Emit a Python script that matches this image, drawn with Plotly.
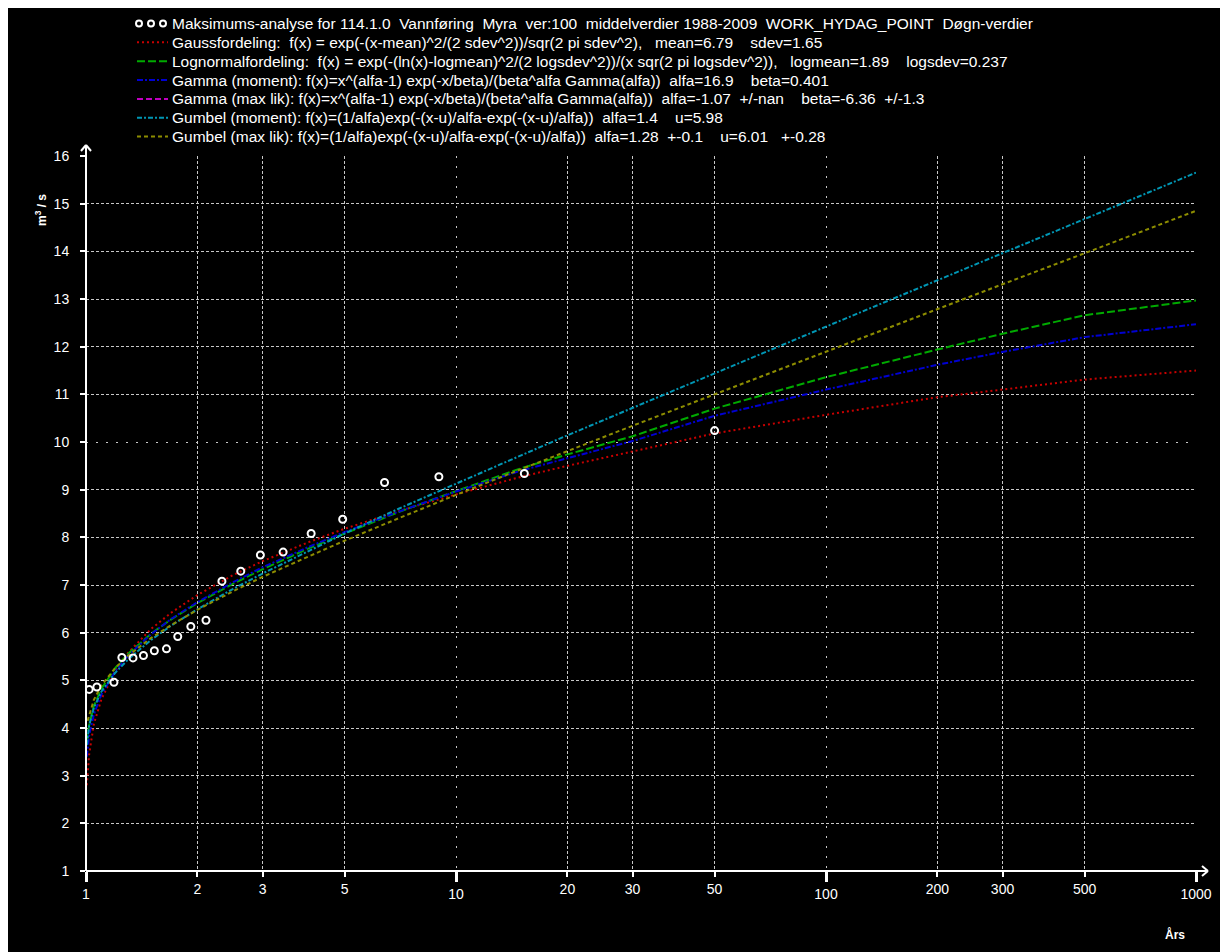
import plotly.graph_objects as go

# ---------------- data ----------------
# Observed annual maxima: return period (years) and discharge (m3/s)
obs_T = [1.02, 1.07, 1.19, 1.25, 1.34, 1.43, 1.53, 1.65, 1.77, 1.92, 2.11,
         2.33, 2.62, 2.96, 3.41, 4.06, 4.94, 6.41, 8.99, 15.3, 50.0]
obs_Q = [4.81, 4.86, 4.96, 5.48, 5.47, 5.52, 5.62, 5.66, 5.92, 6.13, 6.26,
         7.08, 7.29, 7.63, 7.69, 8.08, 8.38, 9.15, 9.27, 9.34, 10.24]

# Return periods at which the fitted curves were read
curve_T = [1.005, 1.01, 1.02, 1.05, 1.1, 1.2, 1.3, 1.5, 1.7, 2, 2.5, 3, 4, 5,
           7, 10, 15, 20, 30, 50, 100, 200, 300, 500, 1000]

gauss_Q = [2.80, 3.05, 3.45, 4.08, 4.60, 5.20, 5.58, 6.08, 6.42, 6.79, 7.21,
           7.50, 7.90, 8.18, 8.55, 8.90, 9.27, 9.50, 9.80, 10.18, 10.57,
           10.94, 11.10, 11.31, 11.50]
lognorm_Q = [3.70, 3.85, 4.06, 4.46, 4.82, 5.26, 5.56, 5.98, 6.28, 6.62, 7.03,
             7.33, 7.77, 8.08, 8.53, 8.97, 9.45, 9.74, 10.12, 10.70, 11.36,
             11.94, 12.27, 12.66, 12.97]
gamma_mom_Q = [3.40, 3.59, 3.85, 4.28, 4.70, 5.19, 5.52, 5.97, 6.29, 6.64, 7.06,
               7.37, 7.80, 8.11, 8.54, 8.96, 9.40, 9.66, 10.02, 10.55, 11.10,
               11.62, 11.89, 12.20, 12.47]
gumbel_mom_Q = [3.64, 3.84, 4.06, 4.42, 4.76, 5.16, 5.44, 5.85, 6.15, 6.49, 6.92,
                7.24, 7.72, 8.08, 8.60, 9.13, 9.72, 10.14, 10.72, 11.44, 12.42,
                13.39, 13.96, 14.68, 15.65]
gumbel_ml_Q = [None, 4.15, 4.26, 4.59, 4.89, 5.26, 5.52, 5.89, 6.16, 6.48, 6.87,
               7.17, 7.60, 7.93, 8.40, 8.89, 9.43, 9.81, 10.34, 11.00, 11.90,
               12.79, 13.31, 13.96, 14.85]

x_minor_ticks = [2, 3, 5, 20, 30, 50, 200, 300, 500]
x_major_ticks = [1, 10, 100, 1000]
y_ticks = [1, 2, 3, 4, 5, 6, 7, 8, 9, 11, 12, 13, 14, 15, 16]
y_major_ticks = [10]

NB = "\u00a0"
def sp(s):
    return s.replace("  ", NB + NB)

legend_texts = [
    sp("Maksimums-analyse for 114.1.0  Vannføring  Myra  ver:100  middelverdier 1988-2009  WORK_HYDAG_POINT  Døgn-verdier"),
    sp("Gaussfordeling:  f(x) = exp(-(x-mean)^2/(2 sdev^2))/sqr(2 pi sdev^2),   mean=6.79    sdev=1.65"),
    sp("Lognormalfordeling:  f(x) = exp(-(ln(x)-logmean)^2/(2 logsdev^2))/(x sqr(2 pi logsdev^2)),   logmean=1.89    logsdev=0.237"),
    sp("Gamma (moment): f(x)=x^(alfa-1) exp(-x/beta)/(beta^alfa Gamma(alfa))  alfa=16.9    beta=0.401"),
    sp("Gamma (max lik): f(x)=x^(alfa-1) exp(-x/beta)/(beta^alfa Gamma(alfa))  alfa=-1.07  +/-nan    beta=-6.36  +/-1.3"),
    sp("Gumbel (moment): f(x)=(1/alfa)exp(-(x-u)/alfa-exp(-(x-u)/alfa))  alfa=1.4    u=5.98"),
    sp("Gumbel (max lik): f(x)=(1/alfa)exp(-(x-u)/alfa-exp(-(x-u)/alfa))  alfa=1.28  +-0.1    u=6.01   +-0.28"),
]

FONT = "Liberation Sans, Arial, sans-serif"
RED = "#c80000"
GREEN = "#00aa00"
BLUE = "#0000d2"
MAGENTA = "#c000c0"
TEAL = "#0096b4"
OLIVE = "#8c8c00"

styles = [
    None,
    dict(color=RED, width=2, dash="2px,3px"),
    dict(color=GREEN, width=2, dash="8px,3px"),
    dict(color=BLUE, width=2, dash="6px,2px,2px,2px"),
    dict(color=MAGENTA, width=2, dash="6px,3px"),
    dict(color=TEAL, width=2, dash="5px,2px,2px,2px"),
    dict(color=OLIVE, width=2, dash="4px,3px"),
]

fig = go.Figure()

curves = [gauss_Q, lognorm_Q, gamma_mom_Q, None, gumbel_mom_Q, gumbel_ml_Q]
for i, q in enumerate(curves):
    if q is None:
        continue
    fig.add_trace(go.Scatter(x=curve_T, y=q, mode="lines", name=legend_texts[i + 1],
                             line=styles[i + 1], showlegend=False))
fig.add_trace(go.Scatter(x=obs_T, y=obs_Q, mode="markers", name=legend_texts[0],
                         showlegend=False,
                         marker=dict(symbol="circle-open", size=7, color="white",
                                     line=dict(width=2, color="white"))))
# dummy trace to activate the overlay axes
fig.add_trace(go.Scatter(x=[1, 1000], y=[None, None], xaxis="x2", yaxis="y2",
                         showlegend=False, hoverinfo="skip"))

# page has an 8px body margin; design in page pixels and convert
OFF = 8
W, H = 1220, 944
L, R, T, B = 78, 32, 148, 81
pw, ph = W - L - R, H - T - B

def px(xpage):
    return (xpage - OFF - L) / pw

def py(ypage):
    return (H - B - (ypage - OFF)) / ph

grid_col = "#c8c8c8"
tickfont = dict(family=FONT, size=14, color="white")

fig.update_layout(
    width=W, height=H,
    margin=dict(l=L, r=R, t=T, b=B, pad=0, autoexpand=False),
    paper_bgcolor="black", plot_bgcolor="black",
    font=dict(family=FONT, color="white", size=14),
    xaxis=dict(type="log", range=[0, 3], autorange=False, automargin=False,
               tickvals=x_minor_ticks, ticktext=[str(v) for v in x_minor_ticks],
               ticks="outside", ticklen=5, tickwidth=2, tickcolor="white",
               showgrid=True, gridcolor=grid_col, gridwidth=1, griddash="3px,2px",
               showline=False, zeroline=False, tickfont=tickfont),
    xaxis2=dict(type="log", range=[0, 3], autorange=False, automargin=False,
                overlaying="x", side="bottom",
                anchor="y", tickvals=x_major_ticks, ticktext=[str(v) for v in x_major_ticks],
                ticks="outside", ticklen=10, tickwidth=3, tickcolor="white",
                showgrid=True, gridcolor=grid_col, gridwidth=1, griddash="2px,8px",
                showline=False, zeroline=False, tickfont=tickfont),
    yaxis=dict(range=[1, 16], autorange=False, automargin=False, tickvals=y_ticks,
               ticks="outside", ticklen=5, tickwidth=2, tickcolor="white",
               showgrid=True, gridcolor=grid_col, gridwidth=1, griddash="3px,2px",
               showline=False, zeroline=False, tickfont=tickfont, ticklabelstandoff=8),
    yaxis2=dict(range=[1, 16], autorange=False, automargin=False, overlaying="y",
                side="left", anchor="x",
                tickvals=y_major_ticks, ticks="outside", ticklen=5, tickwidth=2,
                tickcolor="white", showgrid=True, gridcolor=grid_col, gridwidth=1,
                griddash="2px,8px", showline=False, zeroline=False, tickfont=tickfont,
                ticklabelstandoff=8),
    showlegend=False,
)

shapes = []
ax_col = "white"
x_axis_page = 871
y_axis_page = 86
# y axis with arrow
shapes.append(dict(type="line", xref="paper", yref="paper", x0=0, x1=0,
                   y0=0, y1=py(145), line=dict(color=ax_col, width=2), layer="above"))
shapes.append(dict(type="line", xref="paper", yref="paper", x0=px(y_axis_page - 5), x1=0,
                   y0=py(151), y1=py(145), line=dict(color=ax_col, width=2), layer="above"))
shapes.append(dict(type="line", xref="paper", yref="paper", x0=px(y_axis_page + 5), x1=0,
                   y0=py(151), y1=py(145), line=dict(color=ax_col, width=2), layer="above"))
# x axis with arrow
shapes.append(dict(type="line", xref="paper", yref="paper", x0=0, x1=px(1208),
                   y0=0, y1=0, line=dict(color=ax_col, width=2), layer="above"))
shapes.append(dict(type="line", xref="paper", yref="paper", x0=px(1202), x1=px(1208),
                   y0=py(x_axis_page - 5), y1=0, line=dict(color=ax_col, width=2), layer="above"))
shapes.append(dict(type="line", xref="paper", yref="paper", x0=px(1202), x1=px(1208),
                   y0=py(x_axis_page + 5), y1=0, line=dict(color=ax_col, width=2), layer="above"))

# legend drawn by hand (symbols + text)
leg_y0, leg_dy = 23.5, 18.85
for i in range(7):
    yc = leg_y0 + i * leg_dy
    if i == 0:
        for cx in (139, 151, 163):
            shapes.append(dict(type="circle", xref="paper", yref="paper",
                               x0=px(cx - 3), x1=px(cx + 3), y0=py(yc + 3), y1=py(yc - 3),
                               line=dict(color="white", width=2), layer="above"))
    else:
        shapes.append(dict(type="line", xref="paper", yref="paper",
                           x0=px(137), x1=px(168), y0=py(yc), y1=py(yc),
                           line=styles[i], layer="above"))
    fig.add_annotation(xref="paper", yref="paper", x=px(170), y=py(yc),
                       xanchor="left", yanchor="middle", text=legend_texts[i],
                       showarrow=False, font=dict(family=FONT, size=15.5, color="white"))

fig.update_layout(shapes=shapes)

fig.add_annotation(xref="paper", yref="paper", x=px(31), y=py(192), text="<b>m<sup>3</sup> / s</b>",
                   textangle=-90, showarrow=False, font=dict(family=FONT, size=12, color="white"))
fig.add_annotation(xref="paper", yref="paper", x=px(1187), y=py(944), text="<b>Års</b>",
                   showarrow=False, font=dict(family=FONT, size=12, color="white"))

fig.write_html("out.html")
